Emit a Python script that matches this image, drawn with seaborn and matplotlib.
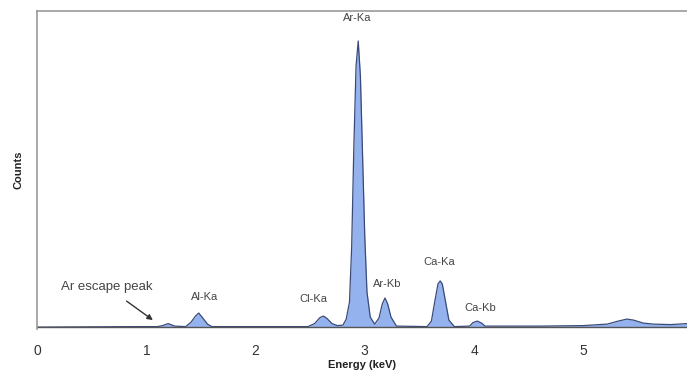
import matplotlib
matplotlib.use("Agg")
import matplotlib.pyplot as plt
import seaborn as sns
import pandas as pd

# Spectrum vertices (energy in keV, counts in arbitrary units)
energy = [0.00, 0.90, 1.10, 1.15, 1.20, 1.26, 1.36, 1.41, 1.45, 1.48, 1.51, 1.56, 1.60,
          2.00, 2.48, 2.54, 2.59, 2.62, 2.65, 2.70, 2.75,
          2.80, 2.83, 2.86, 2.88, 2.90, 2.92, 2.94, 2.96, 2.98, 3.00, 3.02, 3.05, 3.09,
          3.13, 3.16, 3.185, 3.21, 3.24, 3.29,
          3.57, 3.61, 3.64, 3.67, 3.69, 3.71, 3.74, 3.77, 3.82,
          3.96, 3.99, 4.03, 4.07, 4.10,
          4.60, 5.00, 5.22, 5.32, 5.40, 5.46, 5.55, 5.64, 5.80, 5.95]
counts = [0, 5, 5, 15, 35, 10, 5, 50, 110, 140, 100, 30, 5,
          5, 5, 35, 95, 110, 90, 35, 15,
          20, 80, 250, 800, 1800, 2600, 2850, 2500, 1700, 900, 350, 100, 30,
          90, 230, 290, 230, 100, 10,
          5, 60, 250, 430, 460, 430, 250, 70, 5,
          10, 45, 60, 40, 10,
          10, 15, 30, 60, 80, 70, 40, 30, 25, 35]

peak_labels = ["Ar-Ka", "Al-Ka", "Cl-Ka", "Ar-Kb", "Ca-Ka", "Ca-Kb"]
peak_label_x = [2.93, 1.53, 2.53, 3.21, 3.68, 4.06]
peak_label_y = [3080, 300, 280, 430, 650, 190]

xticks = [0, 1, 2, 3, 4, 5]

df = pd.DataFrame({"Energy": energy, "Counts": counts})

sns.set_theme(style="white")
plt.rcParams["font.family"] = ["Liberation Sans", "DejaVu Sans"]

fig = plt.figure(figsize=(6.87, 3.77), dpi=100)
ax = fig.add_axes([0.054, 0.127, 0.946, 0.844])

ax.fill_between(df["Energy"], df["Counts"], 0, color="#93b2ee", linewidth=0)
sns.lineplot(data=df, x="Energy", y="Counts", ax=ax, color="#3a4a78",
             linewidth=0.9, estimator=None, sort=False)
ax.axhline(0, color="#555555", linewidth=1.0)

ax.set_xlim(0, 5.95)
ax.set_ylim(-20, 3150)
ax.set_xticks(xticks)
ax.set_xticklabels([str(t) for t in xticks], color="#333333", fontsize=10)
ax.set_yticks([])
ax.tick_params(axis="x", direction="inout", length=5, width=1, color="#555555", pad=8)

for side in ["left", "top"]:
    ax.spines[side].set_color("#999999")
    ax.spines[side].set_linewidth(1.2)
ax.spines["right"].set_visible(False)
ax.spines["bottom"].set_visible(False)

ax.set_xlabel("Energy (keV)", fontsize=8, fontweight="bold", color="#222222", labelpad=2)
ax.set_ylabel("Counts", fontsize=8, fontweight="bold", color="#222222", labelpad=10)

for lab, lx, ly in zip(peak_labels, peak_label_x, peak_label_y):
    ax.text(lx, ly, lab, ha="center", va="center", fontsize=8, color="#444444")

ax.annotate("Ar escape peak", xy=(1.06, 70), xytext=(0.64, 400),
            ha="center", va="center", fontsize=9.5, color="#444444",
            arrowprops=dict(arrowstyle="-|>", color="#333333", lw=1.0,
                            shrinkA=6, shrinkB=0, mutation_scale=8))

fig.savefig("out.png", dpi=100)
